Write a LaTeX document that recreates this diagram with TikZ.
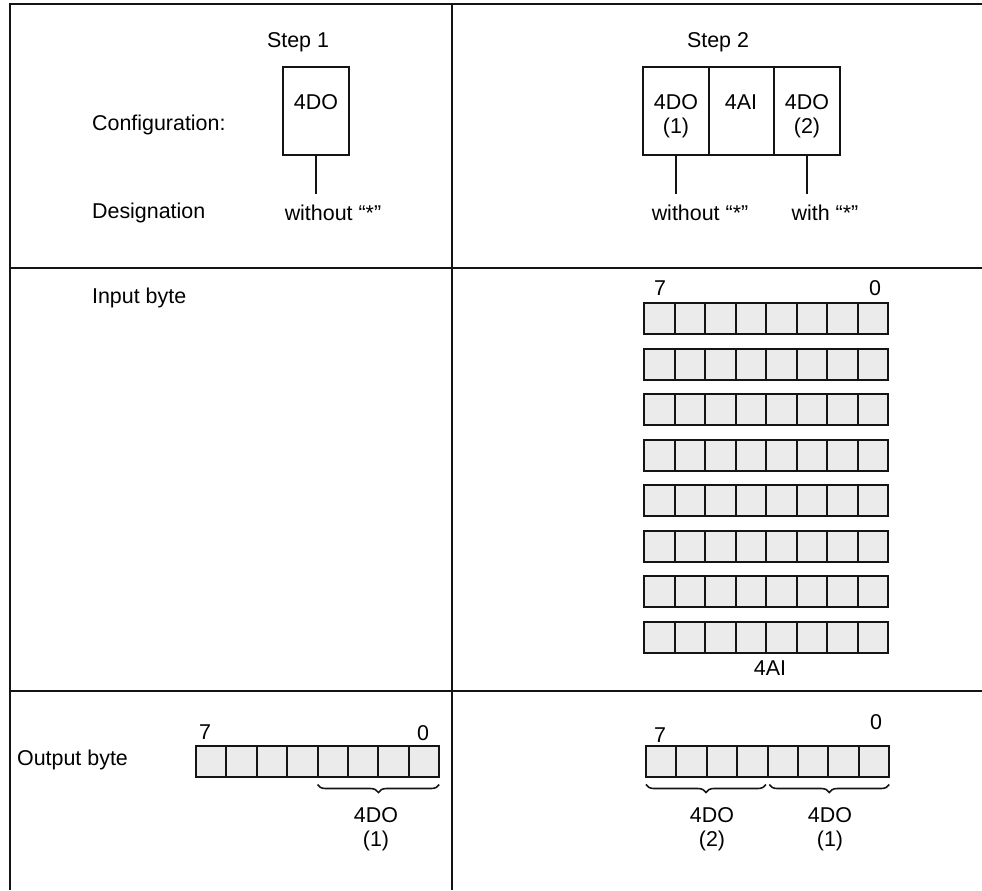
\documentclass[tikz,border=0pt]{standalone}
\usepackage{fontspec}
\setmainfont{Liberation Sans}
\usetikzlibrary{positioning,decorations.pathreplacing,calc}
\definecolor{zellgrau}{RGB}{235,235,235}
\definecolor{strichfarbe}{RGB}{20,20,20}

\begin{document}
\begin{tikzpicture}[
  x=0.02cm, y=-0.02cm,
  font=\fontsize{12.2}{13.8}\selectfont,
  rahmen/.style={line width=1.6pt, strichfarbe},
  strich/.style={line width=1.1pt, strichfarbe},
  modul/.style={draw=strichfarbe, line width=1.1pt, minimum width=1.31cm,
                minimum height=1.76cm, inner sep=0pt, outer sep=0pt},
  zelle/.style={draw=strichfarbe, line width=1.15pt, fill=zellgrau,
                minimum width=0.61cm, minimum height=0.62cm,
                inner sep=0pt, outer sep=0pt},
  klammer/.style={decorate, decoration={brace, mirror, amplitude=1.6mm},
                  line width=0.9pt, strichfarbe},
  txt/.style={inner sep=1pt, align=center}
]
\useasboundingbox (0,0) rectangle (982,890);

% ---------- Tabelle ----------------------------------------------
\draw[rahmen] (10,890) -- (10,4) -- (982,4);
\draw[rahmen] (10,268) -- (982,268);
\draw[rahmen] (10,691) -- (982,691);
\draw[rahmen] (452,4) -- (452,890);

% ---------- Zeilentitel ------------------------------------------
\node[txt, anchor=west] (konf) at (90,125) {Configuration:};
\node[txt, anchor=west] (bez) at (90,213) {Designation};
\node[txt, anchor=west] (ein) at (90,298) {Input byte};
\node[txt, anchor=west] (aus) at (15,760) {Output byte};

% ---------- Schritt 1 --------------------------------------------
\node[txt] (s1) at (298,42) {Step 1};
\node[modul] (m1) at (316,111) {};
\node[txt] (m1t) at (316,102) {4DO};
\node[txt] (d1) at (333,213) {without “*”};
\draw[strich, shorten >=0.18cm] (m1.south) -- (m1.south |- d1.north);

% ---------- Schritt 2 --------------------------------------------
\node[txt] (s2) at (718,42) {Step 2};
\node[modul] (m2a) at (676,111) {};
\node[modul, right=0pt of m2a] (m2b) {};
\node[modul, right=0pt of m2b] (m2c) {};
\node[txt] (m2at) at (676,116) {4DO\\(1)};
\node[txt] (m2bt) at (741,102) {4AI};
\node[txt] (m2ct) at (807,116) {4DO\\(2)};
\node[txt] (d2a) at (700,213) {without “*”};
\node[txt] (d2c) at (825,213) {with “*”};
\draw[strich, shorten >=0.18cm] (m2a.south) -- (m2a.south |- d2a.north);
\draw[strich, shorten >=0.18cm] (m2c.south) -- (m2c.south |- d2c.north);

% ---------- Eingangsbytes (4AI) ----------------------------------
\foreach \r in {0,...,7}
  \foreach \c in {0,...,7}
    \node[zelle] (e\r-\c) at ({659.25+30.5*\c},{318.5+45.5*\r}) {};
\node[txt] (e-hi) at (660,288) {7};
\node[txt] (e-lo) at (875,288) {0};
\node[txt] (e-ai) at (770,668) {4AI};

% ---------- Ausgangsbyte Schritt 1 -------------------------------
\foreach \c in {0,...,7}
  \node[zelle] (a\c) at ({211.2+30.4*\c},761) {};
\node[txt] (a-hi) at (205,732) {7};
\node[txt] (a-lo) at (423,733) {0};
\draw[klammer] ([yshift=-0.16cm]a4.south west) -- ([yshift=-0.16cm]a7.south east);
\node[txt] (a-do1) at (376,829) {4DO\\(1)};

% ---------- Ausgangsbyte Schritt 2 -------------------------------
\foreach \c in {0,...,7}
  \node[zelle] (b\c) at ({661.2+30.4*\c},761) {};
\node[txt] (b-hi) at (660,735) {7};
\node[txt] (b-lo) at (876,722) {0};
\draw[klammer] ([yshift=-0.16cm]b0.south west) -- ([xshift=-1pt,yshift=-0.16cm]b3.south east);
\draw[klammer] ([xshift=1pt,yshift=-0.16cm]b4.south west) -- ([yshift=-0.16cm]b7.south east);
\node[txt] (b-do2) at (712,829) {4DO\\(2)};
\node[txt] (b-do1) at (830,829) {4DO\\(1)};

\end{tikzpicture}
\end{document}
